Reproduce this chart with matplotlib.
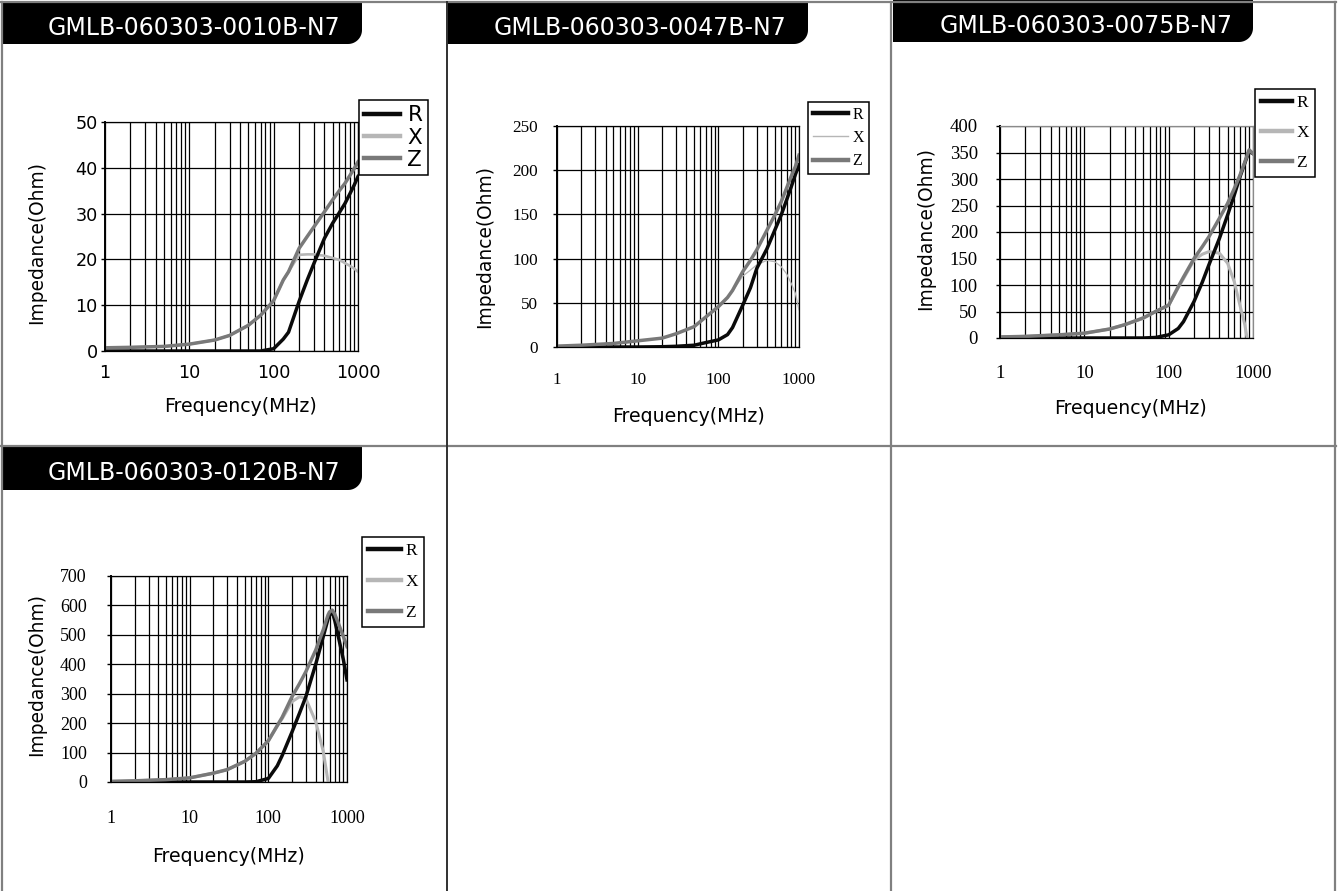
import numpy as np
import matplotlib
matplotlib.use("Agg")
import matplotlib.pyplot as plt
from matplotlib.lines import Line2D
from matplotlib.path import Path
from matplotlib.patches import PathPatch
from matplotlib.ticker import LogLocator, NullFormatter

W, H = 1338, 891
nan = np.nan

# ---- data (frequency in MHz, impedance in Ohm) ----
FREQ_0010 = [1, 2, 5, 10, 20, 30, 50, 70, 100, 130, 150, 200, 250, 300, 400, 500, 600, 700, 800, 900, 1000]
R_0010 = [0, 0, 0, 0, 0, 0, 0, 0, 0.5, 2.6, 4.1, 10.8, 15.5, 19.1, 24.6, 27.9, 30.2, 32.2, 34.3, 36.2, 38.1]
X_0010 = [0.7, 0.8, 1.0, 1.5, 2.4, 3.4, 5.6, 7.8, 11, 15.5, 17.3, 21, 21.1, 21.1, 20.8, 20.3, 19.9, 19.2, 18.6, 18, 17.3]
Z_0010 = [0.7, 0.8, 1.0, 1.5, 2.4, 3.4, 5.6, 7.8, 11, 15.5, 17.3, 22.4, 25, 27.1, 30.4, 33, 35, 36.6, 38.3, 39.8, 41.3]

FREQ_0047 = [1, 2, 5, 10, 20, 30, 50, 70, 100, 130, 150, 200, 250, 300, 400, 500, 600, 700, 800, 900, 1000]
R_0047 = [0, 0, 0, 0, 0.3, 0.8, 2, 5, 8, 14, 22, 47, 67, 89, 111, 132, 149, 166, 181, 195, 206]
X_0047 = [1, 2, 4, 7, 10, 15, 23, 34, 45.6, 56, 63, 80, 87, 93, 98, 96.5, 91, 83, 72, 61, 42]
Z_0047 = [1, 2, 4, 7, 10, 15, 23, 34, 45.6, 56, 64, 85, 98, 110, 132, 149, 164, 179.5, 193, 204, 217]

FREQ_0075 = [1, 2, 5, 10, 20, 30, 50, 70, 100, 130, 150, 200, 250, 300, 400, 500, 600, 700, 800, 850, 900, 1000]
R_0075 = [0, 0, 0, 0, 0, 0, 0, 1, 6, 18, 31, 69, 105, 138, 188, 232, 270, 304, 330, 342, 352, 348]
X_0075 = [2, 3, 6, 9, 17, 25, 37, 50, 62, 95, 112, 147, 158, 163, 160, 141, 106, 62, 25, 0, nan, nan]
Z_0075 = [2, 3, 6, 9, 17, 25, 38, 50, 62, 97, 115, 150, 172, 191, 226, 254, 282, 307, 332, 344, 355, 348]

FREQ_0120 = [1, 2, 5, 10, 20, 30, 50, 70, 100, 130, 150, 200, 250, 300, 400, 500, 575, 600, 650, 700, 800, 900, 1000]
R_0120 = [0, 0, 0, 0, 0, 0, 0, 1, 12, 55, 90, 170, 235, 290, 400, 495, 555, 567, 578, 548, 478, 415, 347]
X_0120 = [2, 4, 8, 14, 30, 42, 70, 98, 140, 190, 215, 273, 290, 283, 205, 103, 0, nan, nan, nan, nan, nan, nan]
Z_0120 = [2, 4, 8, 14, 30, 42, 70, 98, 140, 192, 220, 290, 335, 375, 448, 518, 568, 578, 584, 570, 530, 494, 460]

TITLES = ["GMLB-060303-0010B-N7", "GMLB-060303-0047B-N7",
          "GMLB-060303-0075B-N7", "GMLB-060303-0120B-N7"]
YMAX = [50, 250, 400, 700]
YSTEP = [10, 50, 50, 100]
XTICKS = [1, 10, 100, 1000]
XTICK_LABELS = ["1", "10", "100", "1000"]
SERIES = ["R", "X", "Z"]

COL_R = "#0a0a0a"
COL_X = "#b6b6b6"
COL_Z = "#797979"

fig = plt.figure(figsize=(W / 100, H / 100), dpi=100)


def fx(x):
    return x / W


def fy(y):
    return 1 - y / H


def rect(x0, y0, x1, y1):
    return [fx(x0), fy(y1), (x1 - x0) / W, (y1 - y0) / H]


def hline(x0, x1, y, **kw):
    fig.add_artist(Line2D([fx(x0), fx(x1)], [fy(y), fy(y)], transform=fig.transFigure, **kw))


def vline(x, y0, y1, **kw):
    fig.add_artist(Line2D([fx(x), fx(x)], [fy(y0), fy(y1)], transform=fig.transFigure, **kw))


# cell borders
bc = dict(color="#808080", lw=1.6)
hline(0, 1336, 2, **bc)
hline(0, 1336, 446, **bc)
vline(1.5, 2, 891, **bc)
vline(447, 2, 891, color="#303030", lw=1.4)
vline(891, 2, 891, **bc)
vline(1334.5, 2, 891, **bc)


def tab(x0, y0, x1, y1, text, tx, ty):
    r = 14
    t = np.linspace(0, np.pi / 2, 16)
    xs = [x0, x1] + list(x1 - r + r * np.cos(t)) + [x0]
    ys = [y0, y0] + list(y1 - r + r * np.sin(t)) + [y1]
    verts = [(fx(a), fy(b)) for a, b in zip(xs, ys)]
    verts.append(verts[0])
    codes = [Path.MOVETO] + [Path.LINETO] * (len(verts) - 2) + [Path.CLOSEPOLY]
    fig.add_artist(PathPatch(Path(verts, codes), transform=fig.transFigure,
                             facecolor="black", edgecolor="none"))
    fig.text(fx(tx), fy(ty), text, color="white", fontsize=17, ha="center",
             va="baseline", family="DejaVu Sans")


tab(2, 2, 362, 44, TITLES[0], 194, 35)
tab(448, 2, 808, 44, TITLES[1], 640, 35)
tab(893, 0, 1253, 42, TITLES[2], 1086, 33)
tab(2, 447, 362, 490, TITLES[3], 194, 480)

panels = [
    dict(freq=FREQ_0010, r=R_0010, x=X_0010, z=Z_0010, box=(105, 122, 358, 351),
         tfont=dict(family="DejaVu Sans", size=12.7), ypad=2.2, xpad=9.4,
         lfont=dict(family="DejaVu Sans", size=15.5), lpos=(359, 100),
         xlab=(240, 407), ylab=(37, 242), xlw=1.9, lsp=0.1, hl=1.65, bp=0.25, htp=0.35),
    dict(freq=FREQ_0047, r=R_0047, x=X_0047, z=Z_0047, box=(557, 126, 799, 347),
         tfont=dict(family="Liberation Serif", size=12.3), ypad=10.8, xpad=18,
         lfont=dict(family="Liberation Serif", size=11.5), lpos=(808, 102),
         xlab=(688, 417), ylab=(485, 247), xlw=0.9, lsp=0.45, hl=2.2, bp=0.3, htp=0.3),
    dict(freq=FREQ_0075, r=R_0075, x=X_0075, z=Z_0075, box=(1000, 126, 1253, 338),
         tfont=dict(family="Liberation Serif", size=13.5), ypad=13, xpad=19.4,
         lfont=dict(family="Liberation Serif", size=12.5), lpos=(1255, 89),
         xlab=(1131, 408), ylab=(926, 228), xlw=2.2, lsp=0.8, hl=1.8, bp=0.35, htp=0.23),
    dict(freq=FREQ_0120, r=R_0120, x=X_0120, z=Z_0120, box=(111, 576, 347, 782),
         tfont=dict(family="Liberation Serif", size=13), ypad=14.4, xpad=20,
         lfont=dict(family="Liberation Serif", size=12.5), lpos=(362, 537),
         xlab=(229, 857), ylab=(37, 675), xlw=2.2, lsp=0.85, hl=1.9, bp=0.35, htp=0.25),
]

for i, p in enumerate(panels):
    ax = fig.add_axes(rect(*p["box"]))
    ax.set_xscale("log")
    lx, = ax.plot(p["freq"], p["x"], color=COL_X, lw=p["xlw"], solid_joinstyle="round")
    lr, = ax.plot(p["freq"], p["r"], color=COL_R, lw=2.5, solid_joinstyle="round")
    lz, = ax.plot(p["freq"], p["z"], color=COL_Z, lw=2.5, solid_joinstyle="round")
    ax.set_xlim(1, 1000)
    ax.set_ylim(0, YMAX[i])
    ax.set_yticks(np.arange(0, YMAX[i] + 1, YSTEP[i]))
    ax.set_xticks(XTICKS, labels=XTICK_LABELS)
    ax.xaxis.set_minor_locator(LogLocator(base=10, subs=np.arange(2, 10)))
    ax.xaxis.set_minor_formatter(NullFormatter())
    ax.grid(True, which="both", axis="x", color="black", lw=0.9)
    ax.grid(True, which="major", axis="y", color="black", lw=0.9)
    ax.set_axisbelow(True)
    ax.tick_params(axis="x", which="both", length=0, pad=p["xpad"])
    ax.tick_params(axis="y", which="major", length=3, width=1, direction="out", pad=p["ypad"])
    for lab in ax.get_xticklabels() + ax.get_yticklabels():
        lab.set_family(p["tfont"]["family"])
        lab.set_fontsize(p["tfont"]["size"])
    for s in ax.spines.values():
        s.set_color("black")
        s.set_linewidth(0.9)
    ax.spines["left"].set_linewidth(1.4)
    if i == 2:
        ax.spines["top"].set_color("#8a8a8a")
        ax.spines["right"].set_color("#8a8a8a")

    leg = ax.legend([lr, lx, lz], SERIES, loc="upper left",
                    bbox_to_anchor=(fx(p["lpos"][0]), fy(p["lpos"][1])),
                    bbox_transform=fig.transFigure, borderaxespad=0,
                    fancybox=False, framealpha=1, edgecolor="black",
                    prop=p["lfont"], handlelength=p["hl"], handletextpad=p["htp"],
                    labelspacing=p["lsp"], borderpad=p["bp"])
    leg.get_frame().set_linewidth(1.1)
    for ln, w in zip(leg.get_lines(), [3.2, 3.2 if p["xlw"] > 1 else 1.0, 3.2]):
        ln.set_linewidth(w)

    fig.text(fx(p["xlab"][0]), fy(p["xlab"][1]), "Frequency(MHz)", fontsize=13.6,
             ha="center", va="center", family="DejaVu Sans")
    fig.text(fx(p["ylab"][0]), fy(p["ylab"][1]), "Impedance(Ohm)", fontsize=13.4,
             ha="center", va="center", rotation=90, family="DejaVu Sans")

fig.savefig("out.png", dpi=100, facecolor="white")
